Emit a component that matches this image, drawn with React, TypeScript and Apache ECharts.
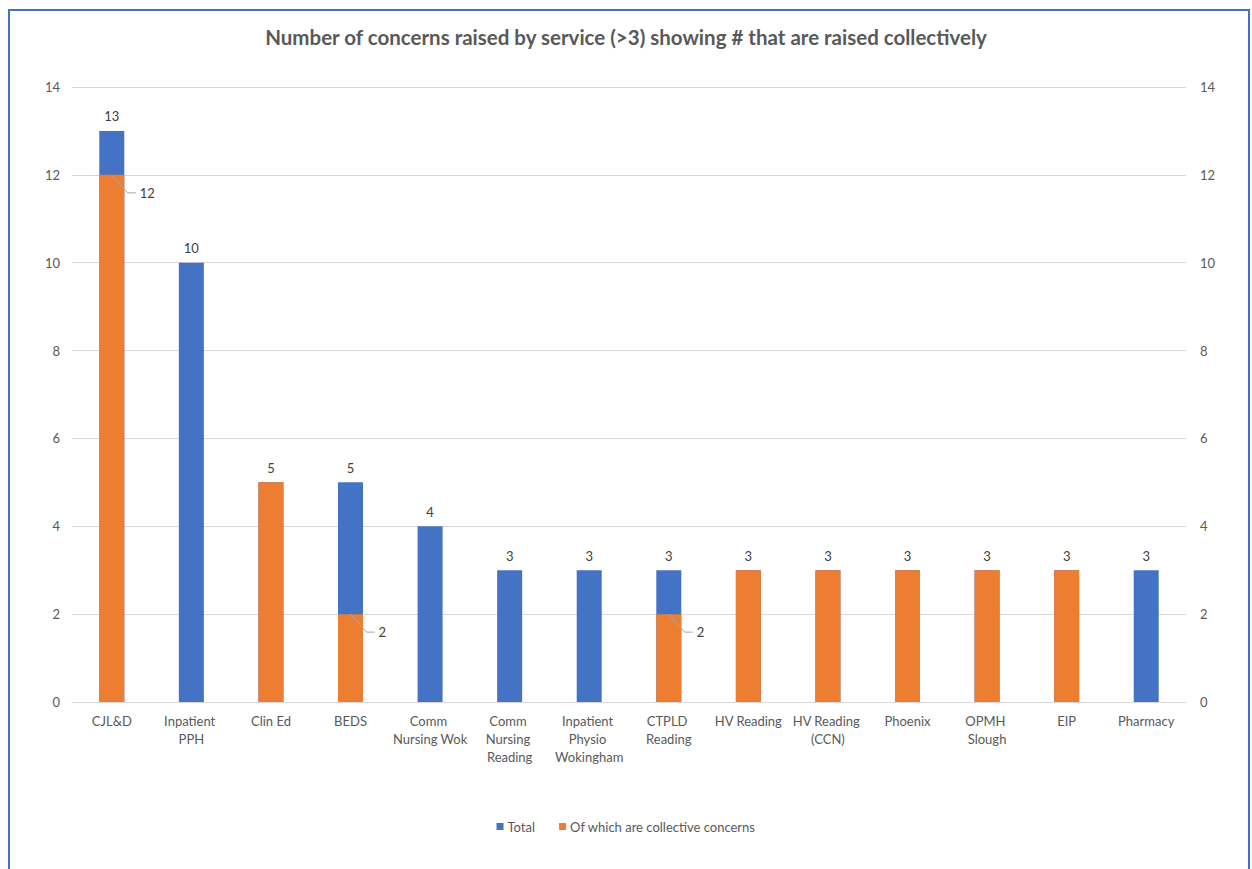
import React, { useEffect, useRef } from "react";
import * as echarts from "echarts";

const categories = [
  "CJL&D",
  "Inpatient PPH",
  "Clin Ed",
  "BEDS",
  "Comm Nursing Wok",
  "Comm Nursing Reading",
  "Inpatient Physio Wokingham",
  "CTPLD Reading",
  "HV Reading",
  "HV Reading (CCN)",
  "Phoenix",
  "OPMH Slough",
  "EIP",
  "Pharmacy",
];
const totals = [13, 10, 5, 5, 4, 3, 3, 3, 3, 3, 3, 3, 3, 3];
const collective = [12, null, 5, 2, null, null, null, 2, 3, 3, 3, 3, 3, null];
const yTicks = [0, 2, 4, 6, 8, 10, 12, 14];

const FONT = "Lato, 'Open Sans', sans-serif";
const GREY = "#595959";

export default function App() {
  const ref = useRef<HTMLDivElement>(null);
  useEffect(() => {
    document.body.style.margin = "0";
    const chart = echarts.init(ref.current!, null, { renderer: "svg" });
    const leaderData: [number, number][] = [];
    collective.forEach((v, i) => {
      if (v != null && v > 0 && v < totals[i]) leaderData.push([i, v]);
    });
    const yMax = yTicks[yTicks.length - 1];
    const yInterval = yTicks[1] - yTicks[0];
    chart.setOption({
      animation: false,
      textStyle: { fontFamily: FONT },
      title: {
        text: "Number of concerns raised by service (>3) showing # that are raised collectively",
        left: "center",
        top: 21,
        textStyle: { fontFamily: FONT, fontSize: 20.5, fontWeight: "bold", color: GREY },
      },
      graphic: [
        {
          type: "rect",
          shape: { x: 9, y: 10, width: 1240, height: 900 },
          style: { fill: "none", stroke: "#4472C4", lineWidth: 2 },
          silent: true,
        },
      ],
      legend: {
        bottom: 31,
        left: "center",
        itemWidth: 7,
        itemHeight: 7,
        itemGap: 24,
        icon: "rect",
        textStyle: { fontFamily: FONT, fontSize: 13, color: GREY, padding: [0, 0, 0, -1] },
        data: ["Total", "Of which are collective concerns"],
      },
      grid: { left: 72, right: 66, top: 87, bottom: 167 },
      xAxis: {
        type: "category",
        data: categories,
        axisTick: { show: false },
        axisLine: { lineStyle: { color: "#D9D9D9", width: 1 } },
        axisLabel: {
          interval: 0,
          margin: 10,
          fontSize: 13,
          lineHeight: 18,
          color: GREY,
          fontFamily: FONT,
          width: 76,
          overflow: "break",
        },
      },
      yAxis: [
        {
          type: "value",
          min: 0,
          max: yMax,
          interval: yInterval,
          axisLabel: { fontSize: 13, color: GREY, margin: 12, fontFamily: FONT },
          splitLine: { lineStyle: { color: "#D9D9D9" } },
          axisLine: { show: false },
          axisTick: { show: false },
        },
        {
          type: "value",
          min: 0,
          max: yMax,
          interval: yInterval,
          position: "right",
          axisLabel: { fontSize: 13, color: GREY, margin: 14, fontFamily: FONT },
          splitLine: { show: false },
          axisLine: { show: false },
          axisTick: { show: false },
        },
      ],
      series: [
        {
          name: "Total",
          type: "bar",
          data: totals,
          barWidth: 25,
          barGap: "-100%",
          itemStyle: { color: "#4472C4" },
          label: {
            show: true,
            position: "top",
            distance: 8,
            fontSize: 13,
            color: "#404040",
            fontFamily: FONT,
          },
        },
        {
          name: "Of which are collective concerns",
          type: "bar",
          data: collective,
          barWidth: 25,
          barGap: "-100%",
          itemStyle: { color: "#ED7D31" },
        },
        {
          name: "leaders",
          type: "custom",
          data: leaderData,
          z: 10,
          renderItem: (params: any, api: any) => {
            const p = api.coord([api.value(0), api.value(1)]);
            const x1 = p[0] + 16;
            const y1 = p[1] + 18;
            const x2 = x1 + 8;
            return {
              type: "group",
              children: [
                {
                  type: "polyline",
                  shape: { points: [[p[0], p[1]], [x1, y1], [x2, y1]] },
                  style: { stroke: "#A6A6A6", lineWidth: 1, fill: "none" },
                },
                {
                  type: "text",
                  x: x2 + 4,
                  y: y1,
                  style: {
                    text: String(api.value(1)),
                    fill: "#404040",
                    fontSize: 13,
                    fontFamily: FONT,
                    verticalAlign: "middle",
                    align: "left",
                  },
                },
              ],
            };
          },
        },
      ],
    });
    return () => chart.dispose();
  }, []);
  return <div ref={ref} style={{ width: 1252, height: 869, overflow: "hidden" }} />;
}
